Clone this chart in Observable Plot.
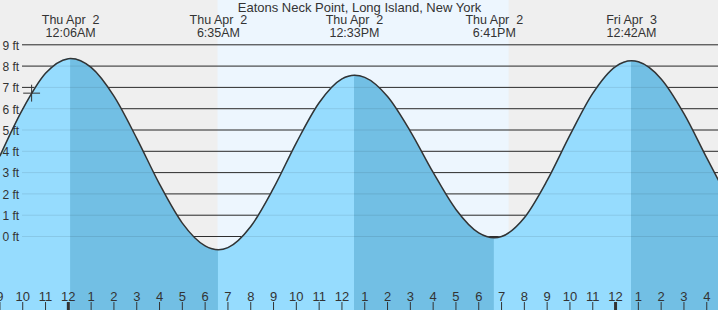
<!DOCTYPE html>
<html><head><meta charset="utf-8">
<script src="https://cdn.jsdelivr.net/npm/d3@7"></script>
<script src="https://cdn.jsdelivr.net/npm/@observablehq/plot@0.6"></script>
<style>
html,body{margin:0;padding:0;background:#fff;}
svg text{white-space:pre;}
</style></head><body><div id="chart"></div>
<script>
const stationName = "Eatons Neck Point, Long Island, New York";
// time in hours since Thu Apr 2, 00:00 local time
const hours = [-3,-2,-1,0,0.1,1,2,3,4,5,6,6.5833,7,8,9,10,11,12,12.55,13,14,15,16,17,18,18.6833,19,20,21,22,23,24,24.7,25,26,27,28,29];
const heightsFt = [3.78,5.98,7.66,8.35,8.36,7.94,6.59,4.61,2.46,0.63,-0.44,-0.62,-0.52,0.47,2.27,4.40,6.28,7.40,7.57,7.47,6.57,4.94,3.01,1.27,0.17,-0.06,0.00,0.88,2.63,4.76,6.72,7.98,8.25,8.20,7.40,5.77,3.69,1.65];
const extremeHours = [0.1, 6.5833, 12.55, 18.6833, 24.7];
const extremeTypes = ["H","L","H","L","H"];
const extremeDays = ["Thu Apr  2","Thu Apr  2","Thu Apr  2","Thu Apr  2","Fri Apr  3"];
const extremeClock = ["12:06AM","6:35AM","12:33PM","6:41PM","12:42AM"];
const sunriseHour = 6.567;
const sunsetHour = 19.333;
const footTicks = [0,1,2,3,4,5,6,7,8,9];
const hourTicks = [-3,-2,-1,0,1,2,3,4,5,6,7,8,9,10,11,12,13,14,15,16,17,18,19,20,21,22,23,24,25,26,27,28];
const nowHour = -1.61;
const nowFt = 6.73;
const xDomain = [-2.975, 28.515];
const yDomain = [-3.474, 11.08];

const NIGHT = "#efefef", DAY = "#edf6fe", LIGHT = "#96dcfe", DARK = "#72bfe4", INK = "#333333";

const rows = hours.map((t, i) => ({t, v: heightsFt[i]}));
const extremes = extremeHours.map((t, i) => ({t, type: extremeTypes[i], day: extremeDays[i], clock: extremeClock[i]}));
const nightBands = [{a: xDomain[0], b: sunriseHour}, {a: sunsetHour, b: xDomain[1]}];
const dayBands = [{a: sunriseHour, b: sunsetHour}];
const fallingBands = extremes.filter(e => e.type === "H").map(e => {
  const next = extremes.find(f => f.t > e.t && f.type === "L");
  return {a: e.t, b: next ? next.t : xDomain[1]};
});
const hourLabel = h => String((((h % 12) + 12) % 12) || 12);

const plot = Plot.plot({
  width: 718, height: 310, margin: 0,
  x: {domain: xDomain, axis: null},
  y: {domain: yDomain, axis: null},
  style: {fontFamily: "'Liberation Sans', Arial, sans-serif", fontSize: "13px", background: NIGHT, overflow: "hidden", color: INK},
  marks: [
    Plot.rect(nightBands, {x1: "a", x2: "b", y1: yDomain[0], y2: yDomain[1], fill: NIGHT}),
    Plot.rect(dayBands, {x1: "a", x2: "b", y1: yDomain[0], y2: yDomain[1], fill: DAY}),
    Plot.ruleY(footTicks, {y: d => d, insetLeft: 22, stroke: INK, strokeWidth: 1}),
    Plot.areaY(rows, {x: "t", y1: yDomain[0], y2: "v", curve: "monotone-x", fill: LIGHT, clip: true}),
    Plot.areaY(rows, {x: "t", y1: yDomain[0], y2: "v", curve: "monotone-x", fill: DARK, clip: true, ariaDescription: "falling"}),
    Plot.ruleY(footTicks, {y: d => d, insetLeft: 22, stroke: "#000", strokeOpacity: 0.09, strokeWidth: 1}),
    Plot.line(rows, {x: "t", y: "v", curve: "monotone-x", stroke: INK, strokeWidth: 1.5, clip: true}),
    Plot.dot([{t: nowHour, v: nowFt}], {x: "t", y: "v", symbol: "plus", r: 5.5, stroke: INK, strokeWidth: 1}),
    Plot.text(footTicks, {y: d => d, text: d => `${d} ft`, frameAnchor: "left", textAnchor: "start", dx: 2, dy: 1, fontSize: 12, fill: INK}),
    Plot.text([stationName], {text: d => d, frameAnchor: "top", dy: 2, fontSize: 13, fill: INK}),
    Plot.text(extremes, {x: "t", text: "day", frameAnchor: "top", lineAnchor: "top", dy: 15, fontSize: 12.5, fill: INK}),
    Plot.text(extremes, {x: "t", text: "clock", frameAnchor: "top", lineAnchor: "top", dy: 27.5, fontSize: 12.5, fill: INK}),
    Plot.ruleX(hourTicks, {x: d => d, insetTop: 302, stroke: INK, strokeWidth: d => (d % 24 === 0 ? 3 : 1)}),
    Plot.text(hourTicks, {x: d => d, text: hourLabel, frameAnchor: "bottom", lineAnchor: "bottom", dy: -10, fontSize: 13, fill: INK})
  ]
});

document.getElementById("chart").appendChild(plot);

// restrict the darker (falling tide) fill to the falling intervals, using Plot's own x scale
const svgEl = plot.tagName.toLowerCase() === "svg" ? plot : plot.querySelector("svg");
const sx = plot.scale("x");
const svg = d3.select(svgEl);
const defs = svg.insert("defs", ":first-child");
const cp = defs.append("clipPath").attr("id", "falling-clip");
fallingBands.forEach(b => {
  const x0 = sx.apply(b.a), x1 = sx.apply(b.b);
  cp.append("rect").attr("x", x0).attr("y", 0).attr("width", x1 - x0).attr("height", 310);
});
svg.selectAll('g[aria-description="falling"] path').attr("clip-path", "url(#falling-clip)");
</script></body></html>
